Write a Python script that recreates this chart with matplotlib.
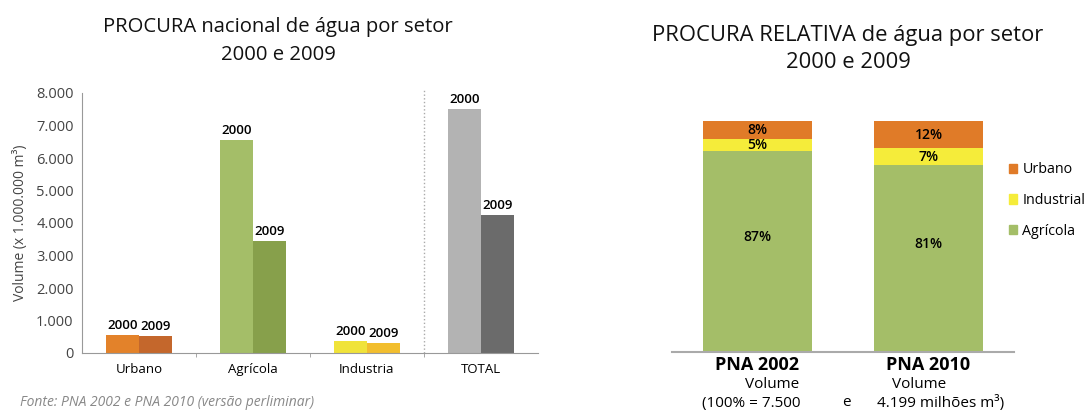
import numpy as np
from matplotlib import pyplot as plt
from matplotlib.patches import Patch

plt.rcParams['font.family'] = ['Open Sans', 'DejaVu Sans']

# left chart data
sectors = ['Urbano', 'Agrícola', 'Industria', 'TOTAL']
vol_2000 = [560, 6550, 380, 7500]
vol_2009 = [525, 3450, 300, 4250]
colors_2000 = ['#E3822A', '#A4BE68', '#F0E33A', '#B3B3B3']
colors_2009 = ['#C4672C', '#87A04B', '#F2BE2E', '#6B6B6B']
yticks = [0, 1000, 2000, 3000, 4000, 5000, 6000, 7000, 8000]
ytick_labels = ['0', '1.000', '2.000', '3.000', '4.000', '5.000',
                '6.000', '7.000', '8.000']

# right chart data
plans = ['PNA 2002', 'PNA 2010']
agricola = [87, 81]
industrial = [5, 7]
urbano = [8, 12]

W, H = 1092, 412
fig = plt.figure(figsize=(W / 100, H / 100), dpi=100)

# ---- left chart
ax = fig.add_axes([82 / W, (H - 353) / H, (538 - 82) / W, (353 - 93) / H])
x = np.arange(len(sectors))
bw = 0.29
ax.bar(x - bw / 2, vol_2000, width=bw, color=colors_2000)
ax.bar(x + bw / 2, vol_2009, width=bw, color=colors_2009)
for i in range(len(sectors)):
    ax.text(x[i] - bw / 2, vol_2000[i] + 90, '2000', ha='center',
            va='bottom', fontsize=9.5, fontweight='semibold')
    ax.text(x[i] + bw / 2, vol_2009[i] + 90, '2009', ha='center',
            va='bottom', fontsize=9.5, fontweight='semibold')
ax.axvline(2.5, ymin=0, ymax=1.015, color='#AAAAAA', linestyle=':',
           linewidth=1, clip_on=False)
ax.set_xlim(-0.5, 3.5)
ax.set_ylim(0, 8000)
ax.set_yticks(yticks)
ax.set_yticklabels(ytick_labels, color='#444444', fontsize=10.5)
ax.set_xticks(x)
ax.set_xticklabels(sectors, fontsize=9.5)
ax.set_xticks([0.5, 1.5, 2.5], minor=True)
ax.tick_params(axis='x', which='major', length=0, pad=7)
ax.tick_params(axis='x', which='minor', length=3, color='#999999')
ax.tick_params(axis='y', length=0, pad=6)
for s in ['top', 'right']:
    ax.spines[s].set_visible(False)
ax.spines['left'].set_color('#999999')
ax.spines['bottom'].set_color('#999999')
ax.set_ylabel('Volume (x 1.000.000 m³)', fontsize=10, color='#444444',
              labelpad=6)
fig.text(278 / W, 1 - 27 / H, 'PROCURA nacional de água por setor',
         ha='center', va='center', fontsize=14.6, color='#111111')
fig.text(278 / W, 1 - 55 / H, '2000 e 2009', ha='center', va='center',
         fontsize=14.6, color='#111111')
fig.text(20 / W, 1 - 403 / H,
         'Fonte: PNA 2002 e PNA 2010 (versão perliminar)',
         ha='left', va='center', fontsize=10, style='italic',
         color='#888888')

# ---- right chart
ax2 = fig.add_axes([672 / W, (H - 351.7) / H, (1014 - 672) / W,
                    (351.7 - 120.7) / H])
xp = np.arange(len(plans))
bw2 = 0.643
c_urb, c_ind, c_agr = '#E07B28', '#F5EC3A', '#A4BE68'
ax2.bar(xp, agricola, width=bw2, color=c_agr)
ax2.bar(xp, industrial, width=bw2, bottom=agricola, color=c_ind)
bottom_u = [a + b for a, b in zip(agricola, industrial)]
ax2.bar(xp, urbano, width=bw2, bottom=bottom_u, color=c_urb)
for i in range(len(plans)):
    ax2.text(xp[i], agricola[i] / 2 + 6, f'{agricola[i]}%', ha='center',
             va='center', fontsize=10, fontweight='semibold')
    ax2.text(xp[i], agricola[i] + industrial[i] / 2, f'{industrial[i]}%',
             ha='center', va='center', fontsize=10,
             fontweight='semibold')
    ax2.text(xp[i], bottom_u[i] + urbano[i] / 2, f'{urbano[i]}%',
             ha='center', va='center', fontsize=10,
             fontweight='semibold')
ax2.set_xlim(-0.5, 1.5)
ax2.set_ylim(0, 100)
ax2.set_yticks([])
ax2.set_xticks(xp)
ax2.set_xticklabels(plans, fontsize=13, fontweight='bold')
ax2.tick_params(axis='x', length=0, pad=3)
for s in ['top', 'right', 'left']:
    ax2.spines[s].set_visible(False)
ax2.spines['bottom'].set_color('#AAAAAA')
ax2.spines['bottom'].set_linewidth(1.5)
handles = [Patch(color=c_urb), Patch(color=c_ind), Patch(color=c_agr)]
ax2.legend(handles, ['Urbano', 'Industrial', 'Agrícola'],
           loc='upper left', bbox_to_anchor=(0.985, 0.82), frameon=False,
           fontsize=10.3, handlelength=0.6, handleheight=0.6,
           handletextpad=0.35, labelspacing=1.1, borderaxespad=0,
           borderpad=0)
fig.text(848 / W, 1 - 35 / H, 'PROCURA RELATIVA de água por setor',
         ha='center', va='center', fontsize=15.8, color='#111111')
fig.text(848 / W, 1 - 62 / H, '2000 e 2009', ha='center', va='center',
         fontsize=15.8, color='#111111')
fig.text(772 / W, 1 - 384 / H, 'Volume', ha='center', va='center',
         fontsize=11)
fig.text(919 / W, 1 - 384 / H, 'Volume', ha='center', va='center',
         fontsize=11)
fig.text(702 / W, 1 - 403 / H, '(100% = 7.500', ha='left', va='center',
         fontsize=11)
fig.text(846 / W, 1 - 403 / H, 'e', ha='center', va='center', fontsize=11)
fig.text(877 / W, 1 - 403 / H, '4.199 milhões m³)', ha='left',
         va='center', fontsize=11)

fig.savefig('out.png', dpi=100)
